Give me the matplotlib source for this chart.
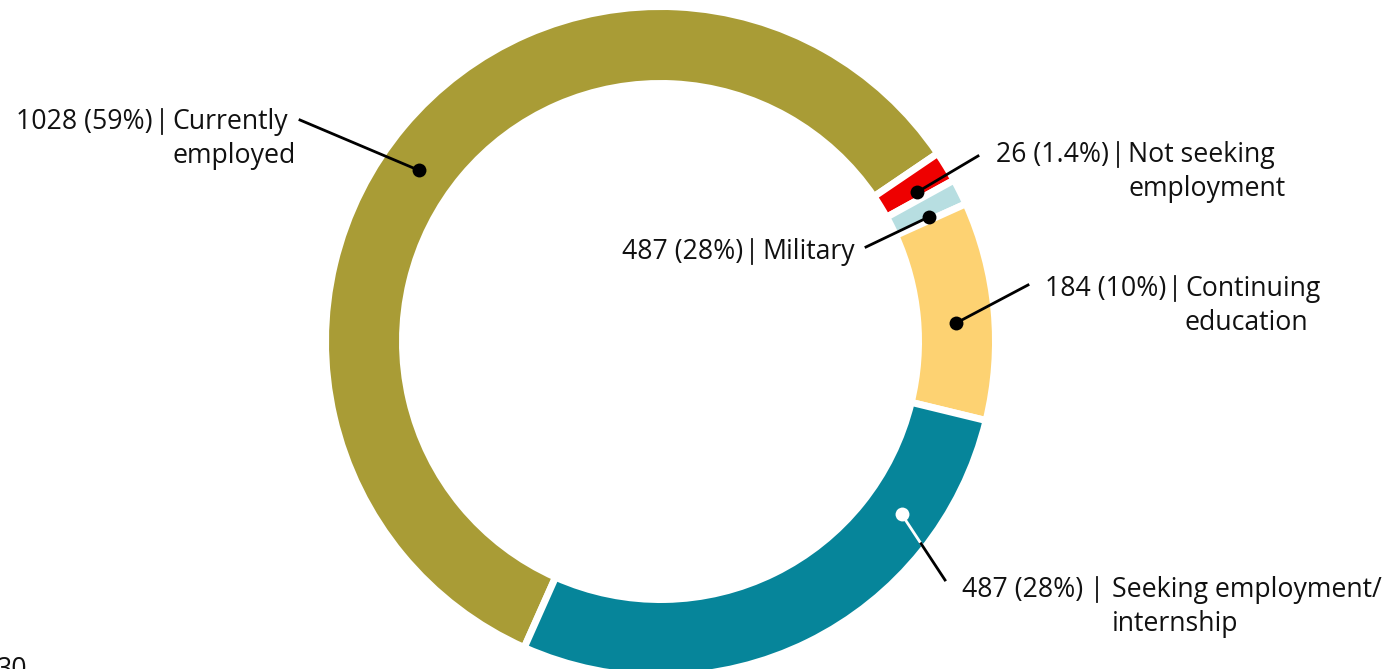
import numpy as np
import matplotlib.pyplot as plt

# --- data ---
counts = [1028, 26, 22, 184, 487]
count_text = ['1028 (59%)', '26 (1.4%)', '487 (28%)', '184 (10%)', '487 (28%)']
names = [['Currently', 'employed'],
         ['Not seeking', 'employment'],
         ['Military'],
         ['Continuing', 'education'],
         ['Seeking employment/', 'internship']]
colors = ['#A99C36', '#EE0000', '#B7DEE1', '#FDD272', '#06859A']

# --- layout (image pixels, y measured from top) ---
W, H = 1390, 669
cx, cy = 660.5, 341.5
r_out, r_in = 331.5, 261.5
gap = 7  # white gap between slices, px

dot_angles = [144.7, 30.2, 24.9, 3.6, -35.6]
bar_x = [162, 1118, 752, 1175, 1097]
baseline = [129, 162, 259, 296, 597]
line_end = [(300, 120), (978, 156), (866, 247), (1028, 285), (945, 580)]
line_step = 34

plt.rcParams['font.family'] = ['Open Sans', 'DejaVu Sans']
FS = 19.2


def Y(y):
    return H - y


fig = plt.figure(figsize=(W / 100, H / 100), dpi=100)
ax = fig.add_axes([0, 0, 1, 1])

ax.pie(counts, colors=colors, startangle=246, counterclock=False,
       center=(cx, Y(cy)), radius=r_out + gap / 2,
       wedgeprops=dict(width=r_out - r_in + gap, edgecolor='white', linewidth=gap * 0.72))

r_mid = (r_out + r_in) / 2
for i in range(len(counts)):
    a = np.radians(dot_angles[i])
    dx, dy = cx + r_mid * np.cos(a), cy - r_mid * np.sin(a)
    ex, ey = line_end[i]
    dot_col = 'white' if i == 4 else 'black'
    if i == 4:
        # white part inside the slice, black outside
        t = 0.45
        mx, my = dx + (ex - dx) * t, dy + (ey - dy) * t
        ax.plot([dx, mx], [Y(dy), Y(my)], color='white', lw=2, zorder=3)
        ax.plot([mx, ex], [Y(my), Y(ey)], color='black', lw=2, zorder=3)
    else:
        ax.plot([dx, ex], [Y(dy), Y(ey)], color='black', lw=2, zorder=3)
    ax.plot(dx, Y(dy), 'o', ms=10, color=dot_col, mec='none', zorder=4)

    sep = 14 if i == 4 else 9
    ax.text(bar_x[i] - sep, Y(baseline[i]), count_text[i], ha='right', va='baseline',
            fontsize=FS, color='#111111')
    ax.plot([bar_x[i], bar_x[i]], [Y(baseline[i] - 20), Y(baseline[i] + 5)],
            color='#111111', lw=1.3)
    for j, line in enumerate(names[i]):
        ax.text(bar_x[i] + sep + 1, Y(baseline[i] + j * line_step), line,
                ha='left', va='baseline', fontsize=FS, color='#111111')

# page number, cut off at the bottom edge as in the source page
ax.text(-3, Y(677), '30', ha='left', va='baseline', fontsize=FS, color='#111111')

ax.set_xlim(0, W)
ax.set_ylim(0, H)
ax.set_aspect('equal')
ax.axis('off')
fig.savefig('out.png', dpi=100)
